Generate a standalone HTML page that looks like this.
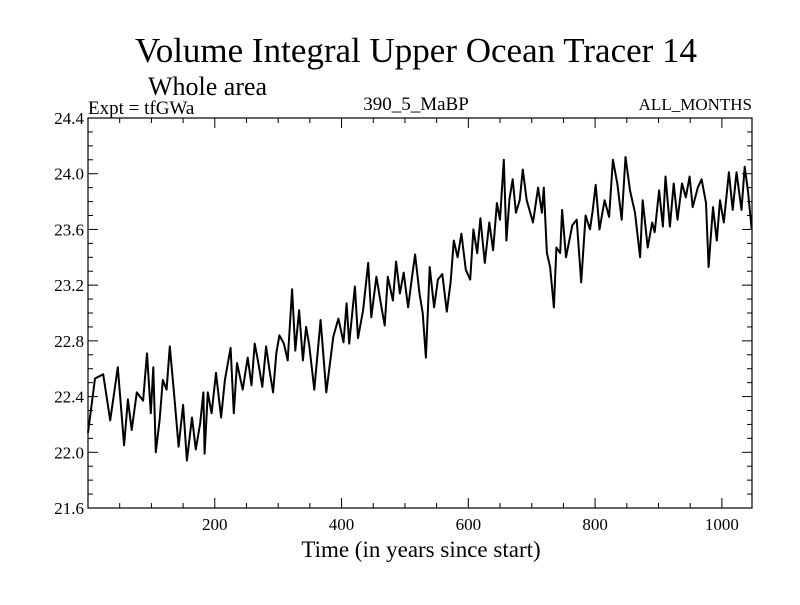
<!DOCTYPE html>
<html><head><meta charset="utf-8"><style>
body{margin:0;background:#fff}
svg text{font-family:"Liberation Serif",serif;fill:#000}
</style></head><body>
<svg id="chart" width="800" height="600">
<text x="416" y="62" font-size="35" text-anchor="middle">Volume Integral Upper Ocean Tracer 14</text>
<text x="148" y="95" font-size="26">Whole area</text>
<text x="88" y="114" font-size="19">Expt = tfGWa</text>
<text x="416" y="110" font-size="19" text-anchor="middle">390_5_MaBP</text>
<text x="752" y="110" font-size="17" text-anchor="end">ALL_MONTHS</text>
<text x="421" y="557" font-size="23" text-anchor="middle">Time (in years since start)</text>
<g id="ticks"></g>
<path id="series" fill="none" stroke="#000" stroke-width="2" stroke-linejoin="round"/>
<rect x="88" y="118" width="664" height="390" fill="none" stroke="#000" stroke-width="1.2"/>
</svg>
<script>
const years=[0,11,24,35,47,57,63,69,77,87,93,99,103,107,113,118,124,129,137,143,150,156,164,170,177,182,184,189,195,202,210,216,225,230,235,244,252,258,263,268,275,281,287,292,297,302,309,315,322,327,333,339,344,349,357,367,376,387,395,403,408,412,421,426,434,442,447,455,463,468,473,481,486,492,498,505,512,516,523,528,533,539,546,552,559,566,572,577,583,589,596,603,608,614,619,626,633,639,645,650,656,660,665,670,675,681,686,692,702,710,716,719,724,729,735,739,745,748,754,764,771,778,785,792,796,801,807,815,822,828,835,842,848,855,863,871,875,883,890,894,901,907,911,918,924,930,937,943,949,954,962,968,975,979,986,992,997,1003,1011,1017,1023,1031,1036,1041,1047];
const values=[22.14,22.53,22.56,22.23,22.61,22.05,22.38,22.16,22.43,22.37,22.71,22.28,22.61,22.0,22.23,22.52,22.45,22.76,22.36,22.04,22.34,21.94,22.25,22.02,22.21,22.43,21.99,22.43,22.28,22.57,22.25,22.52,22.75,22.28,22.64,22.45,22.68,22.48,22.78,22.66,22.47,22.76,22.57,22.43,22.71,22.84,22.78,22.66,23.17,22.73,23.02,22.66,22.90,22.77,22.45,22.95,22.43,22.83,22.96,22.79,23.07,22.78,23.19,22.82,23.02,23.36,22.97,23.26,23.04,22.91,23.26,23.09,23.37,23.14,23.29,23.04,23.29,23.42,23.14,23.00,22.68,23.33,23.04,23.24,23.28,23.01,23.22,23.52,23.40,23.57,23.31,23.24,23.60,23.43,23.68,23.36,23.65,23.45,23.79,23.67,24.10,23.52,23.82,23.96,23.72,23.81,24.03,23.81,23.65,23.90,23.72,23.90,23.43,23.33,23.04,23.47,23.43,23.74,23.40,23.63,23.67,23.22,23.70,23.60,23.73,23.92,23.60,23.81,23.69,24.10,23.93,23.67,24.12,23.88,23.72,23.40,23.81,23.47,23.65,23.58,23.88,23.62,23.98,23.62,23.93,23.67,23.93,23.83,23.98,23.76,23.90,23.96,23.79,23.33,23.76,23.52,23.81,23.65,24.01,23.74,24.01,23.74,24.05,23.88,23.60];
const yTicks=["21.6","22.0","22.4","22.8","23.2","23.6","24.0","24.4"];
const xTicks=["200","400","600","800","1000"];
const X0=88,X1=752,Y0=508,Y1=118,XMIN=0,XMAX=1047.5,YMIN=21.6,YMAX=24.4;
const sx=v=>X0+(v-XMIN)/(XMAX-XMIN)*(X1-X0);
const sy=v=>Y0-(v-YMIN)/(YMAX-YMIN)*(Y0-Y1);
const NS="http://www.w3.org/2000/svg";
const g=document.getElementById('ticks');
function line(x1,y1,x2,y2,name){const l=document.createElementNS(NS,'line');l.setAttribute('x1',x1);l.setAttribute('y1',y1);l.setAttribute('x2',x2);l.setAttribute('y2',y2);l.setAttribute('stroke','#000');


g.appendChild(l);}
function label(x,y,t,anchor,name){const e=document.createElementNS(NS,'text');e.setAttribute('x',x);e.setAttribute('y',y);e.setAttribute('font-size','17');e.setAttribute('text-anchor',anchor);e.textContent=t;


g.appendChild(e);}
for(let v=21.6;v<=24.401;v+=0.1){const y=sy(v);const major=Math.abs((v-21.6)/0.4-Math.round((v-21.6)/0.4))<0.01;const L=major?10:5;line(X0,y,X0+L,y,'y-tick');line(X1,y,X1-L,y,'y-tick-right');}
yTicks.forEach(t=>label(X0-4,sy(+t)+6,t,'end','y-tick-label'));
for(let v=50;v<=1047;v+=50){const x=sx(v);const L=(v%200===0)?10:5;line(x,Y0,x,Y0-L,'x-tick');line(x,Y1,x,Y1+L,'x-tick-top');}
xTicks.forEach(t=>label(sx(+t),Y0+22,t,'middle','x-tick-label'));
let d='';years.forEach((yr,i)=>{d+=(i?'L':'M')+sx(yr).toFixed(1)+','+sy(values[i]).toFixed(1);});
document.getElementById('series').setAttribute('d',d);
</script>
</body></html>
